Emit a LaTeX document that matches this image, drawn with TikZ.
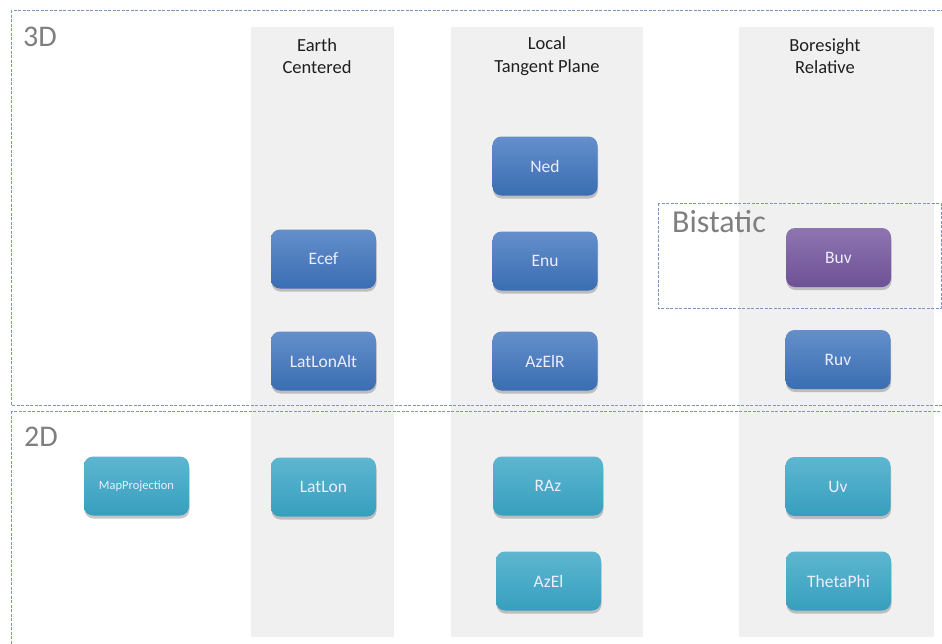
\documentclass[tikz,border=0pt]{standalone}
\usepackage{fontspec}
\setmainfont{Carlito}
\usetikzlibrary{shadows}
\definecolor{colbg}{HTML}{F0F0F0}
\definecolor{dashc}{HTML}{7D94BC}
\definecolor{lblc}{HTML}{7F7F7F}
\definecolor{blueT}{HTML}{648FCB}
\definecolor{blueB}{HTML}{3A6DB2}
\definecolor{cyanT}{HTML}{5EB6D0}
\definecolor{cyanB}{HTML}{369FBE}
\definecolor{purpT}{HTML}{8E75B1}
\definecolor{purpB}{HTML}{6E5196}
\begin{document}
\begin{tikzpicture}[x=1pt, y=-1pt,
	frame/.style={draw=dashc, line width=0.9pt, dash pattern=on 3pt off 1.5pt},
	lbl/.style={anchor=base west, inner sep=0pt, text=lblc, font=\fontsize{30}{32}\selectfont},
	head/.style={align=center, text=black!88, font=\fontsize{18.5}{22.5}\selectfont},
	box/.style={rounded corners=9pt, minimum width=105pt, minimum height=59pt, text=white!93!blue,
		font=\fontsize{17.5}{19}\selectfont, drop shadow={shadow xshift=0.5pt, shadow yshift=-3pt, opacity=0.45}},
	bluebox/.style={box, top color=blueT, bottom color=blueB},
	cyanbox/.style={box, top color=cyanT, bottom color=cyanB},
	purpbox/.style={box, top color=purpT, bottom color=purpB}]
	\useasboundingbox (0,0) rectangle (942,643);
	% columns
	\fill[colbg] (251,27) rectangle (394,637);
	\fill[colbg] (451,27) rectangle (643,637);
	\fill[colbg] (739,27) rectangle (934,637);
	\node[head] (hEarth) at (317,56) {Earth\\Centered};
	\node[head] (hLocal) at (547,56) {Local\\Tangent Plane};
	\node[head] (hBore) at (825,56) {Boresight\\Relative};
	% frames
	\draw[frame] (11,10) rectangle (960,405);
	\draw[frame] (11,411) rectangle (960,660);
	\draw[frame] (658,203) rectangle (941,308);
	\node[lbl] (l3D) at (23,46) {3D};
	\node[lbl] (l2D) at (24,446) {2D};
	\node[lbl, font=\fontsize{32}{34}\selectfont] (lBi) at (672,232) {Bistatic};
	% systems
	\foreach \n/\x/\y/\s in {Ecef/323.5/259/bluebox, LatLonAlt/323.5/361/bluebox, LatLon/323.5/487/cyanbox,
		Ned/545/166/bluebox, Enu/545/261/bluebox, AzElR/545/361/bluebox, AzEl/548.5/581/cyanbox,
		Buv/838.5/257.5/purpbox, Ruv/838/359.5/bluebox, Uv/838/486.5/cyanbox, ThetaPhi/838.5/581/cyanbox}{
		\node[\s] (\n) at (\x,\y) {\n};
	}
	\node[cyanbox, minimum width=110pt] (RAz) at (548,486) {RAz};
	\node[cyanbox, font=\fontsize{12.5}{14}\selectfont] (MapProjection) at (136.5,486) {MapProjection};
\end{tikzpicture}
\end{document}
